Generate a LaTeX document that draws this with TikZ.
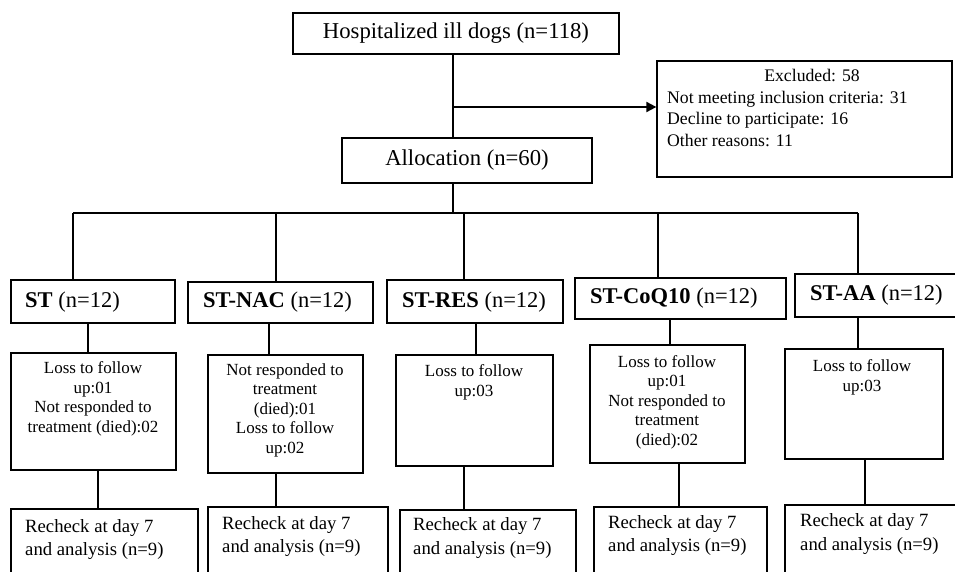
\documentclass[tikz,border=0pt]{standalone}
\usepackage{fontspec}
\setmainfont{Liberation Serif}
\usetikzlibrary{arrows.meta}
\begin{document}
\begin{tikzpicture}[x=1pt,y=-1pt,
  box/.style={draw=black,line width=1.3pt,inner sep=0pt,fill=none},
  conn/.style={draw=black,line width=1.2pt},
  arr/.style={draw=black,line width=2pt,-{Triangle[length=10pt,width=10pt]}},
  bigtxt/.style={font=\fontsize{22.7}{26}\selectfont,inner sep=0pt},
  grptxt/.style={font=\fontsize{22.5}{26}\selectfont,inner sep=0pt,anchor=west},
  midtxt/.style={font=\fontsize{17}{19.5}\selectfont,inner sep=0pt,align=center},
  exctxt/.style={font=\fontsize{17.7}{21.5}\selectfont,inner sep=0pt},
  bottxt/.style={font=\fontsize{18.7}{23.5}\selectfont,inner sep=0pt,align=left,anchor=west}]
\useasboundingbox (0,0) rectangle (955,572);
\fill[white] (0,0) rectangle (955,572);
\clip (0,0) rectangle (955,572);

% top boxes
\node[box,bigtxt,minimum width=326,minimum height=41] (top) at (456,33.5) {Hospitalized ill dogs (n=118)};
\node[box,bigtxt,minimum width=250,minimum height=45] (alloc) at (467,160.5) {Allocation (n=60)};
\node[box,minimum width=295,minimum height=116] (excl) at (804.5,119) {};
\node[exctxt] (ex1) at (812,75) {Excluded: 58};
\node[exctxt,align=left,anchor=west] (ex2) at (667,118.5) {Not meeting inclusion criteria: 31\\Decline to participate: 16\\Other reasons: 11};

% group boxes
\node[box,minimum width=164,minimum height=43] (g1) at (93,301.5) {};
\node[box,minimum width=185,minimum height=41] (g2) at (280.5,302.5) {};
\node[box,minimum width=176,minimum height=43] (g3) at (475,301.5) {};
\node[box,minimum width=211,minimum height=41] (g4) at (680.5,298.5) {};
\node[box,minimum width=170,minimum height=43] (g5) at (880,295.5) {};
\node[grptxt] (g1t) at (25,302) {\textbf{ST} (n=12)};
\node[grptxt] (g2t) at (203,302.5) {\textbf{ST-NAC} (n=12)};
\node[grptxt] (g3t) at (402,302) {\textbf{ST-RES} (n=12)};
\node[grptxt] (g4t) at (590,298) {\textbf{ST-CoQ10} (n=12)};
\node[grptxt] (g5t) at (810,295) {\textbf{ST-AA} (n=12)};

% middle boxes
\node[box,minimum width=165,minimum height=117] (m1) at (93.5,411.5) {};
\node[box,minimum width=155,minimum height=118] (m2) at (285.5,414) {};
\node[box,minimum width=157,minimum height=111] (m3) at (474.5,410.5) {};
\node[box,minimum width=155,minimum height=118] (m4) at (667.5,404) {};
\node[box,minimum width=158,minimum height=110] (m5) at (864,404) {};
\node[midtxt] (m1t) at (93,399) {Loss to follow\\up:01\\Not responded to\\treatment (died):02};
\node[midtxt] (m2t) at (285,410) {Not responded to\\treatment\\(died):01\\Loss to follow\\up:02};
\node[midtxt] (m3t) at (474,382.5) {Loss to follow\\up:03};
\node[midtxt] (m4t) at (667,402) {Loss to follow\\up:01\\Not responded to\\treatment\\(died):02};
\node[midtxt] (m5t) at (862,377.5) {Loss to follow\\up:03};

% bottom boxes
\node[box,minimum width=187,minimum height=91] (b1) at (104.5,554.5) {};
\node[box,minimum width=180,minimum height=93] (b2) at (298,553.5) {};
\node[box,minimum width=176,minimum height=90] (b3) at (488,555) {};
\node[box,minimum width=173,minimum height=93] (b4) at (680.5,553.5) {};
\node[box,minimum width=195,minimum height=95] (b5) at (882.5,552.5) {};
\node[bottxt] (b1t) at (25,539.5) {Recheck at day 7\\and analysis (n=9)};
\node[bottxt] (b2t) at (222,536.5) {Recheck at day 7\\and analysis (n=9)};
\node[bottxt] (b3t) at (413,538) {Recheck at day 7\\and analysis (n=9)};
\node[bottxt] (b4t) at (608,535.5) {Recheck at day 7\\and analysis (n=9)};
\node[bottxt] (b5t) at (800,534) {Recheck at day 7\\and analysis (n=9)};

% helper coordinates
\coordinate (sx) at (453,0);
\coordinate (ar) at (453,107);
\coordinate (busL) at (73,213);
\coordinate (busR) at (858,213);
\coordinate (d1) at (73,213);
\coordinate (d2) at (276,213);
\coordinate (d3) at (464,213);
\coordinate (d4) at (658,213);
\coordinate (d5) at (858,213);
\coordinate (e1) at (88,0);
\coordinate (e2) at (269,0);
\coordinate (e3) at (476,0);
\coordinate (e4) at (670,0);
\coordinate (e5) at (858,0);
\coordinate (f1) at (98,0);
\coordinate (f2) at (276,0);
\coordinate (f3) at (464,0);
\coordinate (f4) at (679,0);
\coordinate (f5) at (865,0);

% connectors
\draw[conn] (top.south -| sx) -- (alloc.north -| sx);
\draw[arr] (ar) -- (ar -| excl.west);
\draw[conn] (alloc.south -| sx) -- (sx |- busL);
\draw[conn] (busL) -- (busR);
\draw[conn] (d1) -- (d1 |- g1.north);
\draw[conn] (d2) -- (d2 |- g2.north);
\draw[conn] (d3) -- (d3 |- g3.north);
\draw[conn] (d4) -- (d4 |- g4.north);
\draw[conn] (d5) -- (d5 |- g5.north);
\draw[conn] (g1.south -| e1) -- (m1.north -| e1);
\draw[conn] (g2.south -| e2) -- (m2.north -| e2);
\draw[conn] (g3.south -| e3) -- (m3.north -| e3);
\draw[conn] (g4.south -| e4) -- (m4.north -| e4);
\draw[conn] (g5.south -| e5) -- (m5.north -| e5);
\draw[conn] (m1.south -| f1) -- (b1.north -| f1);
\draw[conn] (m2.south -| f2) -- (b2.north -| f2);
\draw[conn] (m3.south -| f3) -- (b3.north -| f3);
\draw[conn] (m4.south -| f4) -- (b4.north -| f4);
\draw[conn] (m5.south -| f5) -- (b5.north -| f5);
\end{tikzpicture}
\end{document}
